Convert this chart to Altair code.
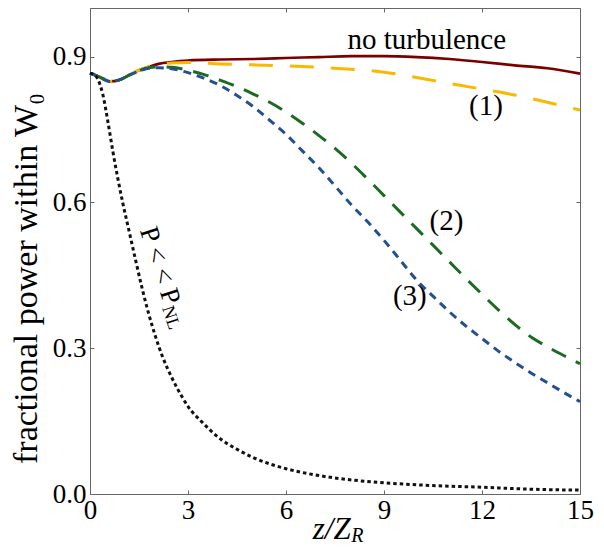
import altair as alt
import pandas as pd

FONT = "Liberation Serif, Times New Roman, Tinos, DejaVu Serif, serif"

# ---- data ----
nt_x = [0, 0.3, 0.6, 0.9, 1.2, 1.5, 1.8, 2.1, 2.5, 3, 4, 5, 6, 7, 8, 9, 10, 11, 12, 13, 14, 15]
nt_y = [0.866, 0.858, 0.849, 0.852, 0.862, 0.872, 0.879, 0.885, 0.889, 0.892, 0.894, 0.895,
        0.897, 0.899, 0.901, 0.901, 0.899, 0.895, 0.889, 0.882, 0.876, 0.865]

c1_x = [0, 0.3, 0.6, 0.9, 1.2, 1.5, 1.8, 2.1, 2.5, 3, 4, 5, 6, 7, 8, 9, 10, 11, 12, 13, 14, 15]
c1_y = [0.866, 0.858, 0.849, 0.852, 0.862, 0.872, 0.879, 0.884, 0.887, 0.888, 0.885, 0.883,
        0.881, 0.878, 0.874, 0.868, 0.857, 0.845, 0.833, 0.821, 0.806, 0.790]

c23_x = [0, 0.3, 0.6, 0.9, 1.2, 1.5, 1.8, 2.1, 2.5, 3, 3.5, 4, 4.5, 5, 5.5, 6, 6.5, 7, 7.5, 8,
         8.5, 9, 9.5, 10, 10.5, 11, 11.5, 12, 12.5, 13, 13.5, 14, 14.5, 15]
c2_y = [0.866, 0.858, 0.849, 0.852, 0.862, 0.871, 0.877, 0.879, 0.878, 0.872, 0.863, 0.851,
        0.838, 0.823, 0.806, 0.786, 0.763, 0.738, 0.711, 0.681, 0.648, 0.614, 0.580, 0.546,
        0.512, 0.478, 0.444, 0.411, 0.379, 0.349, 0.323, 0.303, 0.285, 0.268]
c3_y = [0.866, 0.858, 0.849, 0.852, 0.862, 0.870, 0.876, 0.877, 0.875, 0.867, 0.855, 0.840,
        0.820, 0.797, 0.769, 0.740, 0.706, 0.672, 0.634, 0.595, 0.560, 0.522, 0.481, 0.440,
        0.407, 0.375, 0.346, 0.320, 0.294, 0.271, 0.249, 0.229, 0.209, 0.190]

lin_x = [0, 0.15, 0.25, 0.4, 0.55, 0.7, 0.85, 1.0, 1.2, 1.4, 1.6, 1.8, 2.0, 2.2, 2.5, 2.8, 3.0,
         3.4, 4.0, 4.5, 5.0, 5.5, 6.0, 7, 8, 9, 10, 11, 12, 13, 14, 15]
lin_y = [0.866, 0.862, 0.852, 0.820, 0.765, 0.705, 0.650, 0.600, 0.540, 0.480, 0.422, 0.370,
         0.325, 0.286, 0.240, 0.202, 0.180, 0.150, 0.113, 0.092, 0.075, 0.062, 0.052, 0.038,
         0.029, 0.023, 0.019, 0.016, 0.014, 0.011, 0.009, 0.008]

x_ticks = [0, 3, 6, 9, 12, 15]
y_ticks = [0.0, 0.3, 0.6, 0.9]

labels = ["no turbulence", "(1)", "(2)", "(3)"]
label_x = [10.31, 12.12, 10.91, 9.79]
label_y = [0.934, 0.798, 0.562, 0.407]

xs = alt.Scale(domain=[0, 15], nice=False, zero=False)
ys = alt.Scale(domain=[0, 1], nice=False, zero=False)

AX = "#666666"

x_bottom = alt.Axis(orient="bottom", values=x_ticks, format="d", offset=-4, tickSize=4,
                    domain=False, grid=False, labelPadding=3, labelFont=FONT, labelFontSize=27,
                    labelColor="black", tickColor=AX, labelFlush=False, labelOverlap=False,
                    title=None)
y_left = alt.Axis(orient="left", values=y_ticks, format=".1f", offset=-4, tickSize=4,
                  domain=False, grid=False, labelPadding=4, labelFont=FONT, labelFontSize=27,
                  labelColor="black", tickColor=AX, labelFlush=False, labelOverlap=False,
                  title="fractional power within W\u2080", titleFont=FONT, titleFontSize=34,
                  titleFontWeight="normal", titleColor="black", titleAngle=-90,
                  titleX=-58, titleY=270, titleAlign="center", titleBaseline="alphabetic")
x_top = alt.Axis(orient="top", values=x_ticks, offset=-4, tickSize=4, domain=False, grid=False,
                 labels=False, tickColor=AX, title=None)
y_right = alt.Axis(orient="right", values=y_ticks, offset=-4, tickSize=4, domain=False,
                   grid=False, labels=False, tickColor=AX, title=None)


def line(xv, yv, color, dash, width, xa=None, ya=None):
    df = pd.DataFrame({"x": xv, "y": yv})
    kw = dict(color=color, strokeWidth=width, interpolate="monotone")
    if dash:
        kw["strokeDash"] = dash
    return alt.Chart(df).mark_line(**kw).encode(
        x=alt.X("x:Q", scale=xs, axis=xa),
        y=alt.Y("y:Q", scale=ys, axis=ya),
    )


red = line(nt_x, nt_y, "#7a0000", None, 2.6, x_bottom, y_left)
yellow = line(c1_x, c1_y, "#fbb800", [24, 17], 3, x_top, y_right)
green = line(c23_x, c2_y, "#1d6b22", [16, 11], 3)
blue = line(c23_x, c3_y, "#245092", [8, 6], 3)
black = line(lin_x, lin_y, "#111111", [3.5, 3], 3)

ann_df = pd.DataFrame({"t": labels, "x": label_x, "y": label_y})
ann = alt.Chart(ann_df).mark_text(font=FONT, fontSize=29, color="black", align="center",
                                  baseline="middle").encode(
    x=alt.X("x:Q", scale=xs, axis=None), y=alt.Y("y:Q", scale=ys, axis=None), text="t:N")

pnl_df = pd.DataFrame({"t": ["P < < P"], "x": [1.68], "y": [0.564]})
pnl = alt.Chart(pnl_df).mark_text(font=FONT, fontSize=27, color="black", align="right",
                                  baseline="middle", angle=72, dx=88).encode(
    x=alt.X("x:Q", scale=xs, axis=None), y=alt.Y("y:Q", scale=ys, axis=None), text="t:N")
nl_df = pd.DataFrame({"t": ["NL"], "x": [1.68], "y": [0.564]})
nl = alt.Chart(nl_df).mark_text(font=FONT, fontSize=18, color="black", align="left",
                                baseline="middle", angle=72, dx=89, dy=6).encode(
    x=alt.X("x:Q", scale=xs, axis=None), y=alt.Y("y:Q", scale=ys, axis=None), text="t:N")

xt_df = pd.DataFrame({"t": ["z/Z"], "x": [7.98], "y": [-0.092]})
xt = alt.Chart(xt_df).mark_text(font=FONT, fontSize=31, fontStyle="italic", color="black",
                                align="right", baseline="alphabetic").encode(
    x=alt.X("x:Q", scale=xs, axis=None), y=alt.Y("y:Q", scale=ys, axis=None), text="t:N")
xr_df = pd.DataFrame({"t": ["R"], "x": [8.0], "y": [-0.099]})
xr = alt.Chart(xr_df).mark_text(font=FONT, fontSize=20, fontStyle="italic", color="black",
                                align="left", baseline="alphabetic").encode(
    x=alt.X("x:Q", scale=xs, axis=None), y=alt.Y("y:Q", scale=ys, axis=None), text="t:N")

chart = alt.layer(red, yellow, green, blue, black, ann, pnl, nl, xt, xr).resolve_axis(
    x="independent", y="independent"
).properties(
    width=490, height=486,
    padding={"left": 82, "top": 0, "right": 16, "bottom": 54},
    autosize=alt.AutoSizeParams(type="none"),
    background="white",
).configure_view(stroke=AX, strokeWidth=1)

chart.save("out.html", embed_options={"renderer": "svg", "actions": False})
